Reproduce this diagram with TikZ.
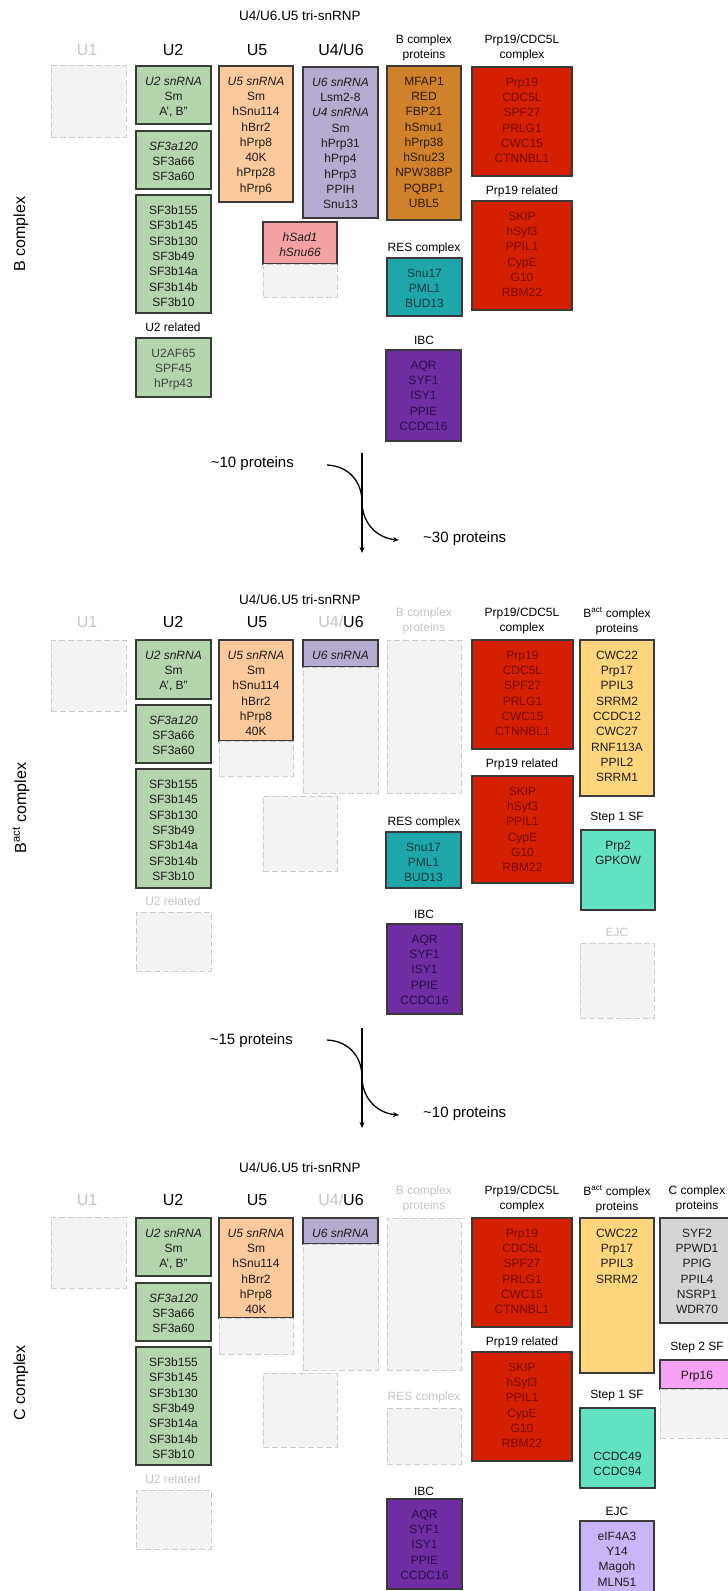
\documentclass[tikz,border=0pt]{standalone}
\usepackage{fontspec}
\setmainfont{Liberation Sans}
\usetikzlibrary{arrows.meta}

\definecolor{boxline}{HTML}{3A3A3A}
\definecolor{ghostline}{HTML}{CCCCCC}
\definecolor{ghostfill}{HTML}{F3F3F3}
\definecolor{ghosttext}{HTML}{C4C4C4}
\definecolor{snGreen}{HTML}{B4D6AD}
\definecolor{snPeach}{HTML}{FBC99B}
\definecolor{snLilac}{HTML}{B6ABD0}
\definecolor{snRose}{HTML}{F4A2A2}
\definecolor{bAmber}{HTML}{CF8229}
\definecolor{bAmberText}{HTML}{2E1A05}
\definecolor{nRed}{HTML}{D42000}
\definecolor{nRedText}{HTML}{7A0A00}
\definecolor{resTeal}{HTML}{1FA6A8}
\definecolor{resText}{HTML}{0B3D3E}
\definecolor{ibcPurple}{HTML}{6E2DA0}
\definecolor{ibcText}{HTML}{2B0E4A}
\definecolor{actYellow}{HTML}{FFD67E}
\definecolor{sfMint}{HTML}{63E3C2}
\definecolor{cGray}{HTML}{D5D5D5}
\definecolor{sfPink}{HTML}{F7A2F2}
\definecolor{ejcLav}{HTML}{C9B6F7}
\definecolor{inkDark}{HTML}{1C1C1C}
\definecolor{inkSoft}{HTML}{3B463B}

\begin{document}
\begin{tikzpicture}[x=1pt, y=-1pt,
    protbox/.style={draw=boxline, line width=1.2pt, anchor=north west, inner sep=0pt, outer sep=0pt},
    ghostbox/.style={draw=ghostline, fill=ghostfill, line width=1pt, dash pattern=on 6pt off 3pt,
        anchor=north west, inner sep=0pt, outer sep=0pt},
    boxtext/.style={font=\fontsize{12}{15.3}\selectfont, align=center, inner sep=0pt, anchor=north},
    grouplabel/.style={font=\fontsize{12}{15}\selectfont, align=center, inner sep=0pt},
    ghostlabel/.style={grouplabel, text=ghosttext},
    colhead/.style={font=\fontsize{16}{19}\selectfont, inner sep=0pt},
    snrnptitle/.style={font=\fontsize{13.5}{16}\selectfont, inner sep=0pt},
    sidelabel/.style={font=\fontsize{16}{19}\selectfont, rotate=90, inner sep=0pt},
    amount/.style={font=\fontsize{15}{18}\selectfont, inner sep=0pt},
    flow/.style={line width=1.3pt, -{Stealth[length=6pt, width=5pt]}},
]
    \def\pbox#1#2#3#4#5#6#7#8{% name, fill, ink, x, y, width, height, text
        \node[protbox, fill=#2, minimum width=#6pt, minimum height=#7pt] (#1) at (#4,#5) {};
        \node[boxtext, text=#3] (#1-t) at ([yshift=-10.7pt]#1.north) {#8};
    }
    \def\gbox#1#2#3#4#5{% name, x, y, width, height
        \node[ghostbox, minimum width=#4pt, minimum height=#5pt] (#1) at (#2,#3) {};
    }
    \clip (0,0) rectangle (728,1591);
    \fill[white] (0,0) rectangle (728,1591);

    % ---------------- B complex ----------------
    \node[snrnptitle] (p1-tri) at (300,16) {U4/U6.U5 tri-snRNP};
    \node[colhead, text=ghosttext] (p1-h-u1) at (87,50) {U1};
    \node[colhead] (p1-h-u2) at (173,50) {U2};
    \node[colhead] (p1-h-u5) at (257,50) {U5};
    \node[colhead] (p1-h-u46) at (341,50) {U4/U6};
    \node[sidelabel] (p1-side) at (21,234) {B complex};

    \gbox{p1-u1}{51}{65}{75}{72}
    \pbox{p1-u2a}{snGreen}{inkDark}{136}{66}{75}{58}{\textit{U2 snRNA}\\Sm\\A', B''}
    \pbox{p1-u2b}{snGreen}{inkDark}{136}{131}{75}{58}{\textit{SF3a120}\\SF3a66\\SF3a60}
    \pbox{p1-u2c}{snGreen}{inkDark}{136}{195}{75}{118}{SF3b155\\SF3b145\\SF3b130\\SF3b49\\SF3b14a\\SF3b14b\\SF3b10}
    \node[grouplabel] (p1-u2rel-l) at (173,327) {U2 related};
    \pbox{p1-u2rel}{snGreen}{inkSoft}{136}{338}{75}{59}{U2AF65\\SPF45\\hPrp43}
    \pbox{p1-u5}{snPeach}{inkDark}{219}{66}{74}{136}{\textit{U5 snRNA}\\Sm\\hSnu114\\hBrr2\\hPrp8\\40K\\hPrp28\\hPrp6}
    \pbox{p1-u46}{snLilac}{inkDark}{303}{67}{75}{151}{\textit{U6 snRNA}\\Lsm2-8\\\textit{U4 snRNA}\\Sm\\hPrp31\\hPrp4\\hPrp3\\PPIH\\Snu13}
    \pbox{p1-sad}{snRose}{inkDark}{263}{222}{74}{42}{\textit{hSad1}\\\textit{hSnu66}}
    \gbox{p1-sadg}{263}{264}{74}{33}

    \node[grouplabel] (p1-bcp-l) at (424,48) {B complex\\proteins};
    \pbox{p1-bcp}{bAmber}{bAmberText}{387}{66}{74}{154}{MFAP1\\RED\\FBP21\\hSmu1\\hPrp38\\hSnu23\\NPW38BP\\PQBP1\\UBL5}
    \node[grouplabel] (p1-res-l) at (424,248) {RES complex};
    \pbox{p1-res}{resTeal}{resText}{387}{258}{75}{58}{Snu17\\PML1\\BUD13}
    \node[grouplabel] (p1-ibc-l) at (424,340) {IBC};
    \pbox{p1-ibc}{ibcPurple}{ibcText}{386}{350}{75}{91}{AQR\\SYF1\\ISY1\\PPIE\\CCDC16}

    \node[grouplabel] (p1-ntc-l) at (522,48) {Prp19/CDC5L\\complex};
    \pbox{p1-ntc}{nRed}{nRedText}{472}{67}{100}{109}{Prp19\\CDC5L\\SPF27\\PRLG1\\CWC15\\CTNNBL1}
    \node[grouplabel] (p1-ntr-l) at (522,191) {Prp19 related};
    \pbox{p1-ntr}{nRed}{nRedText}{472}{201}{100}{109}{SKIP\\hSyf3\\PPIL1\\CypE\\G10\\RBM22}

    % transition B -> Bact
    \coordinate (a1-top) at (362,453);
    \coordinate (a1-bot) at (362,553);
    \coordinate (a1-in) at (327,465);
    \coordinate (a1-out) at (399,540);
    \draw[flow] (a1-top) -- (a1-bot);
    \draw[flow] (a1-in) .. controls (349,466) and (362,482) .. (362,502)
        .. controls (362,522) and (376,538) .. (a1-out);
    \node[amount, anchor=east] (a1-loss) at (294,464) {\textasciitilde10 proteins};
    \node[amount, anchor=west] (a1-gain) at (423,539) {\textasciitilde30 proteins};

    % ---------------- Bact complex ----------------
    \node[snrnptitle] (p2-tri) at (300,600) {U4/U6.U5 tri-snRNP};
    \node[colhead, text=ghosttext] (p2-h-u1) at (87,622) {U1};
    \node[colhead] (p2-h-u2) at (173,622) {U2};
    \node[colhead] (p2-h-u5) at (257,622) {U5};
    \node[colhead] (p2-h-u46) at (341,622) {\textcolor{ghosttext}{U4/}U6};
    \node[sidelabel] (p2-side) at (21,808) {B\textsuperscript{act} complex};

    \gbox{p2-u1}{51}{640}{75}{71}
    \pbox{p2-u2a}{snGreen}{inkDark}{136}{640}{75}{59}{\textit{U2 snRNA}\\Sm\\A', B''}
    \pbox{p2-u2b}{snGreen}{inkDark}{136}{705}{75}{58}{\textit{SF3a120}\\SF3a66\\SF3a60}
    \pbox{p2-u2c}{snGreen}{inkDark}{136}{769}{75}{119}{SF3b155\\SF3b145\\SF3b130\\SF3b49\\SF3b14a\\SF3b14b\\SF3b10}
    \node[ghostlabel] (p2-u2rel-l) at (173,901) {U2 related};
    \gbox{p2-u2rel}{136}{912}{75}{59}
    \pbox{p2-u5}{snPeach}{inkDark}{219}{640}{74}{101}{\textit{U5 snRNA}\\Sm\\hSnu114\\hBrr2\\hPrp8\\40K}
    \gbox{p2-u5g}{219}{741}{74}{35}
    \pbox{p2-u6}{snLilac}{inkDark}{303}{640}{75}{27}{\textit{U6 snRNA}}
    \gbox{p2-u46g}{303}{667}{75}{126}
    \gbox{p2-sadg}{263}{796}{74}{75}

    \node[ghostlabel] (p2-bcp-l) at (424,621) {B complex\\proteins};
    \gbox{p2-bcp}{387}{640}{74}{153}
    \node[grouplabel] (p2-res-l) at (424,822) {RES complex};
    \pbox{p2-res}{resTeal}{resText}{386}{832}{75}{56}{Snu17\\PML1\\BUD13}
    \node[grouplabel] (p2-ibc-l) at (424,914) {IBC};
    \pbox{p2-ibc}{ibcPurple}{ibcText}{387}{924}{75}{90}{AQR\\SYF1\\ISY1\\PPIE\\CCDC16}

    \node[grouplabel] (p2-ntc-l) at (522,621) {Prp19/CDC5L\\complex};
    \pbox{p2-ntc}{nRed}{nRedText}{472}{640}{101}{109}{Prp19\\CDC5L\\SPF27\\PRLG1\\CWC15\\CTNNBL1}
    \node[grouplabel] (p2-ntr-l) at (522,764) {Prp19 related};
    \pbox{p2-ntr}{nRed}{nRedText}{472}{776}{101}{107}{SKIP\\hSyf3\\PPIL1\\CypE\\G10\\RBM22}

    \node[grouplabel] (p2-act-l) at (617,621) {B\textsuperscript{act} complex\\proteins};
    \pbox{p2-act}{actYellow}{inkDark}{580}{640}{74}{156}{CWC22\\Prp17\\PPIL3\\SRRM2\\CCDC12\\CWC27\\RNF113A\\PPIL2\\SRRM1}
    \node[grouplabel] (p2-s1-l) at (617,818) {Step 1 SF};
    \pbox{p2-s1}{sfMint}{inkDark}{581}{830}{74}{80}{Prp2\\GPKOW}
    \node[ghostlabel] (p2-ejc-l) at (617,932) {EJC};
    \gbox{p2-ejc}{580}{943}{74}{75}

    % transition Bact -> C
    \coordinate (a2-top) at (362,1028);
    \coordinate (a2-bot) at (362,1128);
    \coordinate (a2-in) at (327,1040);
    \coordinate (a2-out) at (399,1115);
    \draw[flow] (a2-top) -- (a2-bot);
    \draw[flow] (a2-in) .. controls (349,1041) and (362,1057) .. (362,1077)
        .. controls (362,1097) and (376,1113) .. (a2-out);
    \node[amount, anchor=east] (a2-loss) at (293,1041) {\textasciitilde15 proteins};
    \node[amount, anchor=west] (a2-gain) at (423,1114) {\textasciitilde10 proteins};

    % ---------------- C complex ----------------
    \node[snrnptitle] (p3-tri) at (300,1168) {U4/U6.U5 tri-snRNP};
    \node[colhead, text=ghosttext] (p3-h-u1) at (87,1200) {U1};
    \node[colhead] (p3-h-u2) at (173,1200) {U2};
    \node[colhead] (p3-h-u5) at (257,1200) {U5};
    \node[colhead] (p3-h-u46) at (341,1200) {\textcolor{ghosttext}{U4/}U6};
    \node[sidelabel] (p3-side) at (21,1383) {C complex};

    \gbox{p3-u1}{51}{1217}{75}{71}
    \pbox{p3-u2a}{snGreen}{inkDark}{136}{1218}{75}{58}{\textit{U2 snRNA}\\Sm\\A', B''}
    \pbox{p3-u2b}{snGreen}{inkDark}{136}{1283}{75}{58}{\textit{SF3a120}\\SF3a66\\SF3a60}
    \pbox{p3-u2c}{snGreen}{inkDark}{136}{1347}{75}{118}{SF3b155\\SF3b145\\SF3b130\\SF3b49\\SF3b14a\\SF3b14b\\SF3b10}
    \node[ghostlabel] (p3-u2rel-l) at (173,1479) {U2 related};
    \gbox{p3-u2rel}{136}{1490}{75}{59}
    \pbox{p3-u5}{snPeach}{inkDark}{219}{1218}{74}{100}{\textit{U5 snRNA}\\Sm\\hSnu114\\hBrr2\\hPrp8\\40K}
    \gbox{p3-u5g}{219}{1318}{74}{36}
    \pbox{p3-u6}{snLilac}{inkDark}{303}{1218}{75}{26}{\textit{U6 snRNA}}
    \gbox{p3-u46g}{303}{1244}{75}{126}
    \gbox{p3-sadg}{263}{1373}{74}{74}

    \node[ghostlabel] (p3-bcp-l) at (424,1199) {B complex\\proteins};
    \gbox{p3-bcp}{387}{1218}{74}{152}
    \node[ghostlabel] (p3-res-l) at (424,1397) {RES complex};
    \gbox{p3-res}{387}{1408}{74}{56}
    \node[grouplabel] (p3-ibc-l) at (424,1491) {IBC};
    \pbox{p3-ibc}{ibcPurple}{ibcText}{387}{1499}{75}{90}{AQR\\SYF1\\ISY1\\PPIE\\CCDC16}

    \node[grouplabel] (p3-ntc-l) at (522,1199) {Prp19/CDC5L\\complex};
    \pbox{p3-ntc}{nRed}{nRedText}{472}{1218}{100}{109}{Prp19\\CDC5L\\SPF27\\PRLG1\\CWC15\\CTNNBL1}
    \node[grouplabel] (p3-ntr-l) at (522,1342) {Prp19 related};
    \pbox{p3-ntr}{nRed}{nRedText}{472}{1352}{100}{109}{SKIP\\hSyf3\\PPIL1\\CypE\\G10\\RBM22}

    \node[grouplabel] (p3-act-l) at (617,1199) {B\textsuperscript{act} complex\\proteins};
    \pbox{p3-act}{actYellow}{inkDark}{580}{1218}{74}{155}{CWC22\\Prp17\\PPIL3\\SRRM2}
    \node[grouplabel] (p3-s1-l) at (617,1396) {Step 1 SF};
    \pbox{p3-s1}{sfMint}{inkDark}{580}{1408}{75}{80}{}
    \node[boxtext, text=inkDark] (p3-s1-t2) at ([yshift=-43.7pt]p3-s1.north) {CCDC49\\CCDC94};
    \node[grouplabel] (p3-ejc-l) at (617,1511) {EJC};
    \pbox{p3-ejc}{ejcLav}{inkDark}{580}{1521}{74}{80}{eIF4A3\\Y14\\Magoh\\MLN51}

    \node[grouplabel] (p3-cc-l) at (697,1199) {C complex\\proteins};
    \pbox{p3-cc}{cGray}{inkDark}{660}{1218}{74}{105}{SYF2\\PPWD1\\PPIG\\PPIL4\\NSRP1\\WDR70}
    \node[grouplabel] (p3-s2-l) at (697,1348) {Step 2 SF};
    \pbox{p3-s2}{sfPink}{inkDark}{660}{1360}{74}{29}{Prp16}
    \gbox{p3-s2g}{660}{1389}{74}{49}
\end{tikzpicture}
\end{document}
